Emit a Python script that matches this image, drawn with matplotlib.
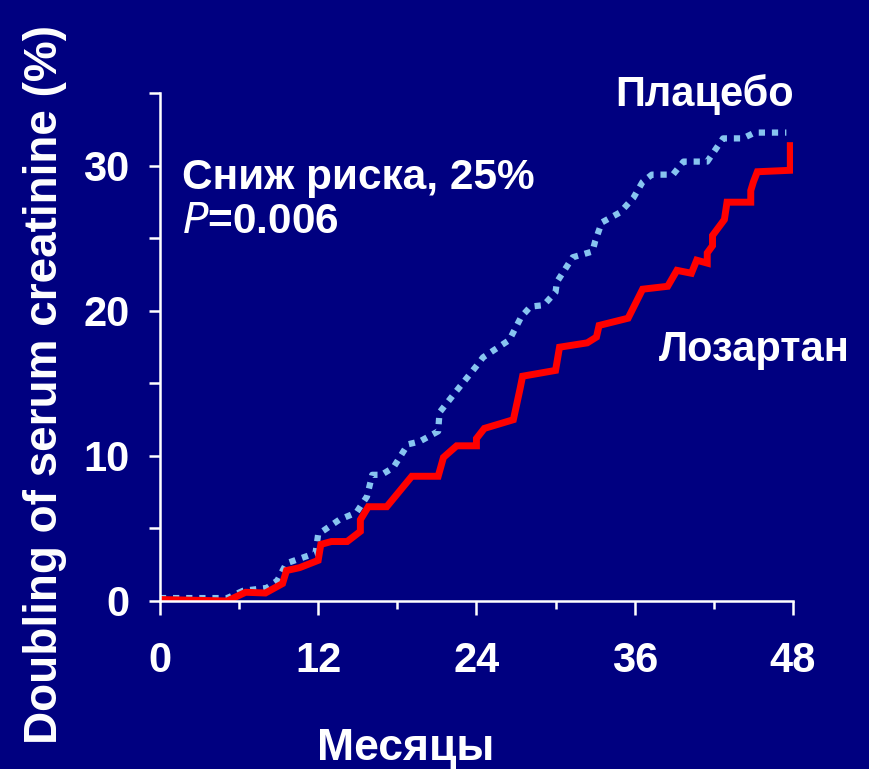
import matplotlib
matplotlib.use("Agg")
import matplotlib.pyplot as plt
from matplotlib.ticker import MultipleLocator

# Data (months, %)
losartan_x = [0, 5.1, 6.5, 8.0, 9.3, 9.6, 10.6, 12.0, 12.2, 13.0, 14.2, 15.2, 15.2, 15.8,
              17.2, 19.1, 21.1, 21.5, 22.5, 24.0, 24.0, 24.6, 26.8, 27.3, 27.5, 30.0,
              30.3, 32.4, 33.1, 33.3, 35.5, 36.6, 38.5, 39.2, 40.3, 40.7, 41.5, 41.5,
              41.9, 41.9, 42.8, 43.0, 44.8, 44.8, 45.0, 45.3, 47.8, 47.8]
losartan_y = [0.1, 0.0, 0.6, 0.55, 1.2, 2.1, 2.3, 2.8, 3.9, 4.1, 4.1, 4.8, 5.6, 6.5,
              6.5, 8.6, 8.6, 9.9, 10.7, 10.7, 11.2, 11.9, 12.5, 14.6, 15.5, 15.9,
              17.5, 17.8, 18.2, 19.0, 19.5, 21.5, 21.7, 22.8, 22.6, 23.5, 23.3, 24.0,
              24.5, 25.2, 26.3, 27.5, 27.5, 28.3, 28.9, 29.6, 29.7, 31.4]

placebo_x = [0, 5.1, 6.3, 8.1, 8.9, 9.6, 11.8, 12.0, 13.6, 14.9, 15.7, 16.1, 16.8, 17.7,
             18.8, 19.7, 21.1, 21.2, 22.5, 24.0, 24.5, 26.5, 27.4, 28.1, 29.1, 30.0,
             30.1, 31.3, 32.8, 33.0, 33.5, 34.9, 35.9, 36.6, 37.3, 38.9, 39.7, 41.5,
             42.7, 44.2, 45.1, 47.5]
placebo_y = [0.2, 0.2, 0.7, 0.9, 1.4, 2.6, 3.3, 4.6, 5.6, 6.1, 7.2, 8.7, 8.7, 9.2,
             10.8, 11.0, 11.7, 13.0, 14.5, 16.2, 16.8, 18.0, 19.6, 20.3, 20.4, 21.3,
             22.0, 23.7, 24.1, 24.8, 26.1, 26.8, 27.8, 28.9, 29.4, 29.4, 30.3, 30.3,
             31.9, 31.9, 32.3, 32.3]

x_ticks = [0, 12, 24, 36, 48]
y_ticks = [0, 10, 20, 30]

BG = "#000080"
plt.rcParams['font.family'] = ['Liberation Sans', 'DejaVu Sans']

fig = plt.figure(figsize=(8.69, 7.69), dpi=100, facecolor=BG)
ax = fig.add_axes([0.184, 0.2185, 0.7285, 0.66])
ax.set_facecolor(BG)

ax.plot(placebo_x, placebo_y, color="#87C4F0", lw=4.5, linestyle=(0, (1, 1.1)),
        dash_capstyle="butt", solid_joinstyle="miter")
ax.plot(losartan_x, losartan_y, color="#FF0000", lw=5, solid_joinstyle="miter")

ax.set_xlim(0, 48)
ax.set_ylim(0, 35)
for s in ["top", "right"]:
    ax.spines[s].set_visible(False)
for s in ["left", "bottom"]:
    ax.spines[s].set_color("white")
    ax.spines[s].set_linewidth(1.8)

ax.set_xticks(x_ticks)
ax.xaxis.set_minor_locator(MultipleLocator(6))
ax.set_yticks(y_ticks)
ax.yaxis.set_minor_locator(MultipleLocator(5))
ax.tick_params(axis="x", which="major", length=10, width=1.8, colors="white",
               labelsize=30, pad=19)
ax.tick_params(axis="x", which="minor", length=6, width=1.8, colors="white")
ax.tick_params(axis="y", which="both", length=8, width=1.8, colors="white",
               labelsize=30, pad=14)
for lbl in ax.get_xticklabels() + ax.get_yticklabels():
    lbl.set_fontweight("bold")

fig.text(406 / 869, 1 - 760 / 769, "Месяцы", color="white", fontsize=32,
         fontweight="bold", ha="center", va="baseline")
fig.text(45 / 869, 1 - 385 / 769, "Doubling of serum creatinine (%)", color="white",
         fontsize=33, fontweight="bold", ha="center", va="center", rotation=90)

ax.text(0.035, 0.833, "Сниж риска, 25%", transform=ax.transAxes, color="white",
        fontsize=30.5, fontweight="bold", va="center", ha="left")
ax.text(0.035, 0.747, r"$\mathbf{\mathit{P}}$=0.006", transform=ax.transAxes, color="white",
        fontsize=30.5, fontweight="bold", va="center", ha="left")
ax.text(41.3, 34.9, "Плацебо", color="white", fontsize=30, fontweight="bold",
        va="center", ha="center", clip_on=False)
ax.text(45.1, 17.3, "Лозартан", color="white", fontsize=30, fontweight="bold",
        va="center", ha="center", clip_on=False)

fig.savefig("out.png", dpi=100, facecolor=BG)
